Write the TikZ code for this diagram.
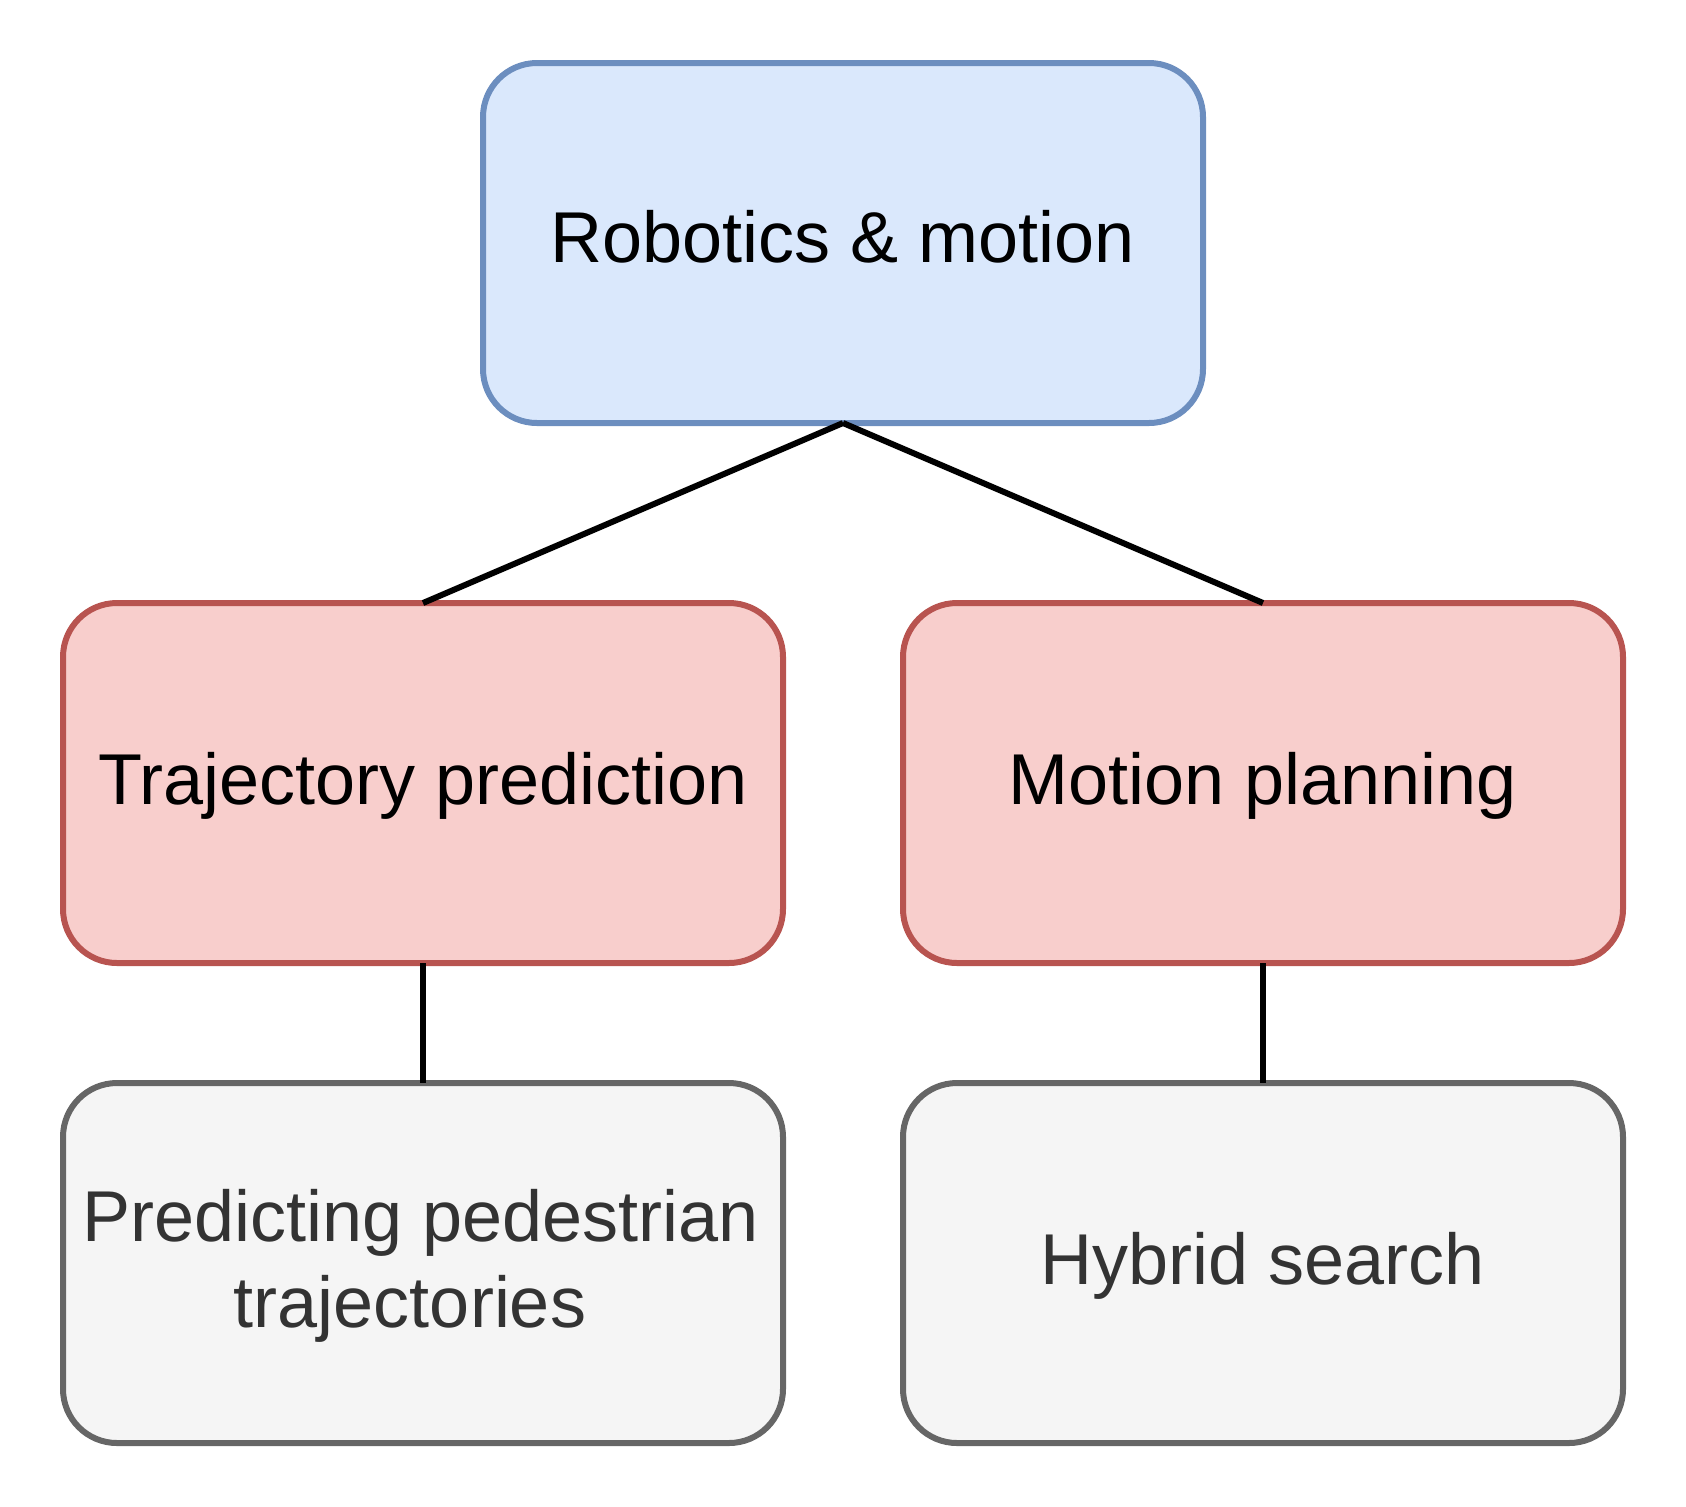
\documentclass[tikz,border=0pt]{standalone}
\usepackage{fontspec}
\setmainfont{Liberation Sans}
\definecolor{blueF}{HTML}{DAE8FC}
\definecolor{blueS}{HTML}{6C8EBF}
\definecolor{redF}{HTML}{F8CECC}
\definecolor{redS}{HTML}{B85450}
\definecolor{grayF}{HTML}{F5F5F5}
\definecolor{grayS}{HTML}{666666}
\definecolor{grayT}{HTML}{333333}
\tikzset{
  box/.style={draw, rounded corners=27pt, line width=3pt, minimum width=360pt, minimum height=180pt,
    inner sep=0pt, outer sep=0pt, align=center, font=\fontsize{36}{43.2}\selectfont,
    text height=32.4pt, text depth=10.8pt},
  topbox/.style={box, fill=blueF, draw=blueS, text=black},
  midbox/.style={box, fill=redF, draw=redS, text=black},
  leafbox/.style={box, fill=grayF, draw=grayS, text=grayT},
  link/.style={draw=black, line width=3pt}
}
\begin{document}
\begin{tikzpicture}[x=0.5pt, y=-0.5pt]
\useasboundingbox (0,0) rectangle (1686,1506);
\node[topbox, text height=31.4pt, text depth=11.8pt] (top) at (843,243) {Robotics \& motion};
\node[midbox] (traj) at (423,783) {Trajectory prediction};
\node[midbox] (plan) at (1263,783) {Motion planning};
\node[leafbox, text height=75.6pt, text depth=10.8pt] (ped) at (423,1263) {Predicting pedestrian\hspace*{2pt}\\trajectories\hspace*{13pt}};
\node[leafbox] (hyb) at (1263,1263) {Hybrid search};
\draw[link] (top.south) -- (traj.north);
\draw[link] (top.south) -- (plan.north);
\draw[link] (traj.south) -- (ped.north);
\draw[link] (plan.south) -- (hyb.north);
\end{tikzpicture}
\end{document}
